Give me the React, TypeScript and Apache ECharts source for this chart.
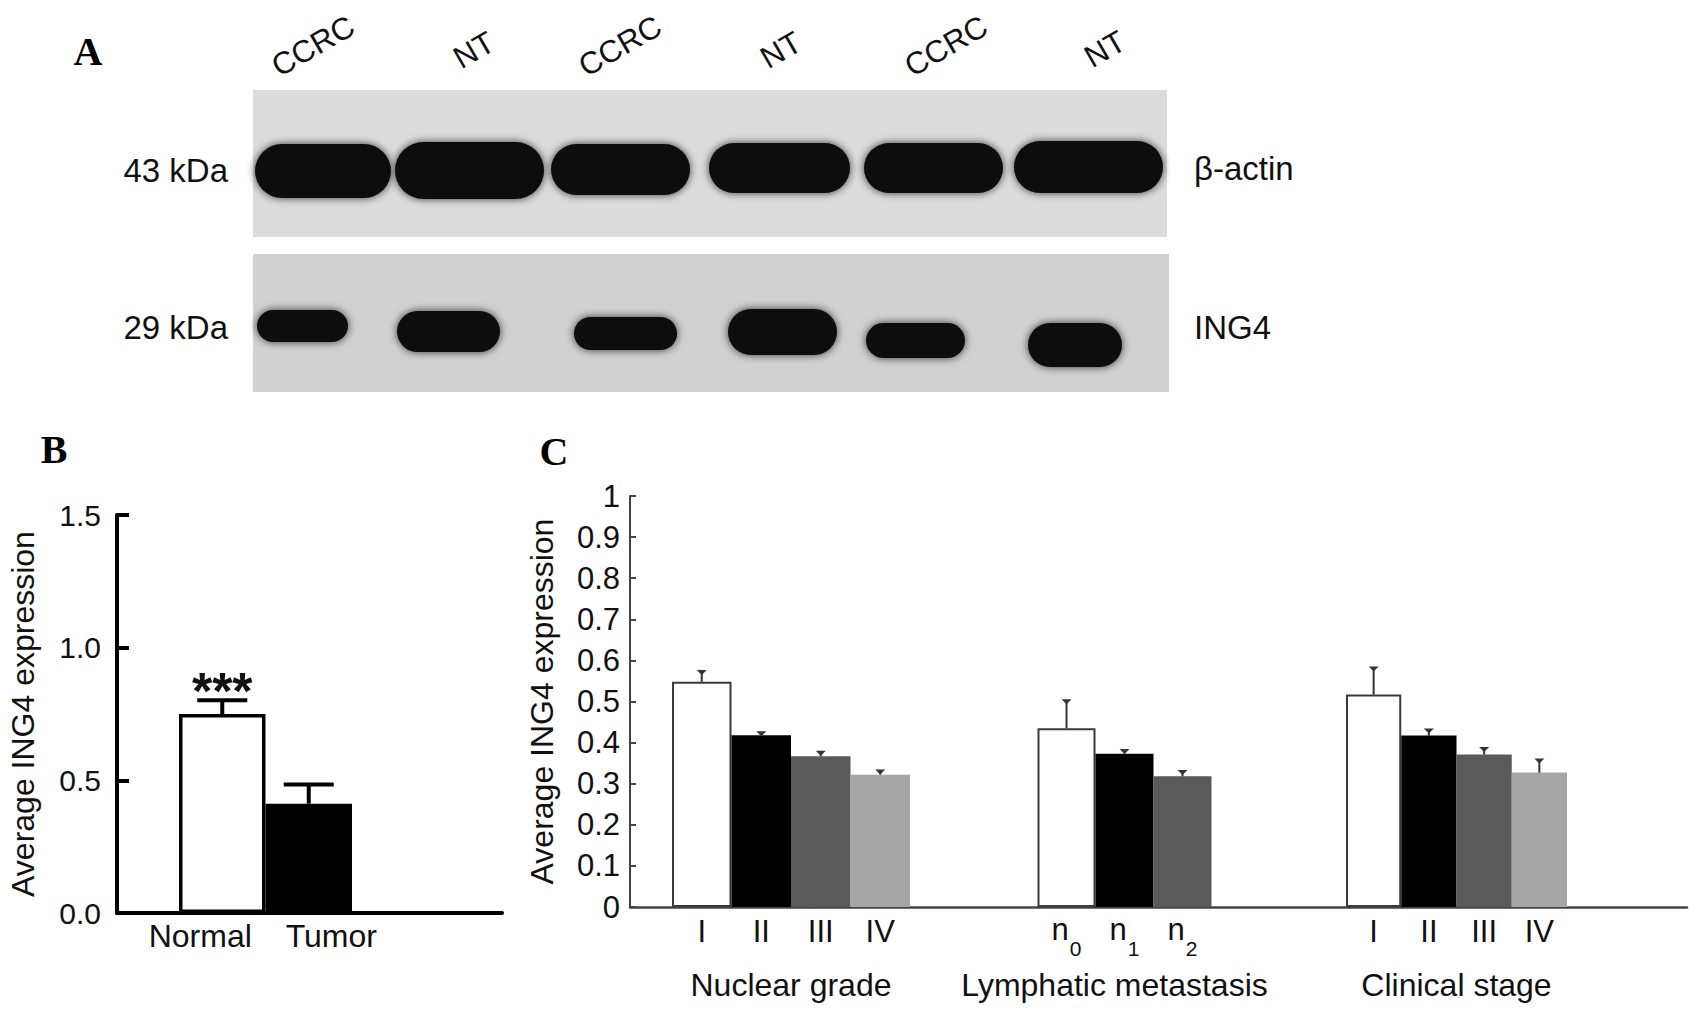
import React, { useEffect, useRef } from 'react';
import * as echarts from 'echarts';

// ---------------- data ----------------
// Panel A (western blot) texts
const laneLabels = ['CCRC', 'NT', 'CCRC', 'NT', 'CCRC', 'NT'];
const markerLabels = ['43 kDa', '29 kDa'];
const proteinLabels = ['β-actin', 'ING4'];

// Panel B
const bCategories = ['Normal', 'Tumor'];
const bMeans = [0.75, 0.412];
const bErrors = [0.052, 0.072];
const bSignificance = ['***', ''];
const bYTicks = [0, 0.5, 1.0, 1.5];

// Panel C
const cGroupNames = ['Nuclear grade', 'Lymphatic metastasis', 'Clinical stage'];
const nuclearLabels = ['I', 'II', 'III', 'IV'];
const nuclearMeans = [0.548, 0.418, 0.367, 0.322];
const nuclearErrors = [0.026, 0.007, 0.011, 0.01];
const lymphLabels = ['n0', 'n1', 'n2'];
const lymphMeans = [0.435, 0.373, 0.318];
const lymphErrors = [0.068, 0.009, 0.013];
const clinicalLabels = ['I', 'II', 'III', 'IV'];
const clinicalMeans = [0.517, 0.417, 0.371, 0.327];
const clinicalErrors = [0.066, 0.015, 0.016, 0.032];
const cYTicks = [0, 0.1, 0.2, 0.3, 0.4, 0.5, 0.6, 0.7, 0.8, 0.9, 1];

// ---------------- layout / style ----------------
const W = 1701;
const H = 1017;
const FONT = '"Liberation Sans", Arial, Helvetica, sans-serif';
const SERIF = '"Liberation Serif", "Times New Roman", serif';
const INK = '#111111';

const B_FRAME = { left: 117, top: 515, width: 385, height: 398 };
const B_BARS = { left: 179, top: 515, width: 173, height: 398 };
const C_FRAME = { left: 630, top: 496, width: 1057, height: 411 };
const C_GROUPS = [
  { left: 672, width: 238 },
  { left: 1037.5, width: 174 },
  { left: 1346, width: 221 },
];
const C_COLORS = ['#ffffff', '#000000', '#5a5a5a', '#a5a5a5'];

const BLOT_BG = [
  { x: 253, y: 90, w: 914, h: 147, fill: '#dcdcdc' },
  { x: 253, y: 254, w: 916, h: 138, fill: '#d1d1d1' },
];
const ACTIN_BANDS = [
  [255, 144, 136, 54],
  [395, 142, 149, 57],
  [551, 144, 139, 51],
  [709, 143, 141, 50],
  [864, 143, 139, 50],
  [1014, 141, 149, 52],
];
const ING4_BANDS = [
  [257, 310, 91, 32],
  [397, 311, 103, 41],
  [574, 317, 103, 33],
  [728, 309, 109, 46],
  [866, 323, 99, 35],
  [1028, 323, 94, 44],
];
const LANE_POS = [
  [313, 46],
  [474, 50],
  [620, 46],
  [781, 50],
  [946, 46],
  [1105, 49],
];

function errorSeries(
  axisIndex: number,
  means: number[],
  errors: number[],
  opts: { color: string; width: number; cap: number; triangle?: boolean; labels?: string[] }
) {
  return {
    type: 'custom',
    xAxisIndex: axisIndex,
    yAxisIndex: axisIndex,
    z: 5,
    silent: true,
    data: means.map((m, i) => [i, m, m + errors[i]]),
    renderItem: (params: any, api: any) => {
      const base = api.coord([api.value(0), api.value(1)]);
      const top = api.coord([api.value(0), api.value(2)]);
      const x = base[0];
      const children: any[] = [
        {
          type: 'line',
          shape: { x1: x, y1: base[1], x2: x, y2: top[1] },
          style: { stroke: opts.color, lineWidth: opts.width },
        },
      ];
      if (opts.triangle) {
        children.push({
          type: 'polygon',
          shape: {
            points: [
              [x - opts.cap, top[1] - 1],
              [x + opts.cap, top[1] - 1],
              [x, top[1] + 4],
            ],
          },
          style: { fill: opts.color },
        });
      } else {
        children.push({
          type: 'line',
          shape: { x1: x - opts.cap, y1: top[1], x2: x + opts.cap, y2: top[1] },
          style: { stroke: opts.color, lineWidth: opts.width },
        });
      }
      const sig = opts.labels ? opts.labels[params.dataIndex] : '';
      if (sig) {
        children.push({
          type: 'text',
          x: x,
          y: top[1] - 9,
          style: {
            text: sig,
            fontSize: 52,
            fontWeight: 'bold',
            fontFamily: FONT,
            fill: INK,
            align: 'center',
            verticalAlign: 'middle',
          },
        });
      }
      return { type: 'group', children };
    },
  };
}

function buildOption() {
  const cData = [
    { labels: nuclearLabels, means: nuclearMeans, errors: nuclearErrors },
    { labels: lymphLabels, means: lymphMeans, errors: lymphErrors },
    { labels: clinicalLabels, means: clinicalMeans, errors: clinicalErrors },
  ];

  const grids: any[] = [
    { ...B_FRAME },
    { ...B_BARS },
    { ...C_FRAME },
    ...C_GROUPS.map((g) => ({ left: g.left, width: g.width, top: C_FRAME.top, height: C_FRAME.height })),
  ].map((g) => ({ ...g, containLabel: false, outerBoundsMode: 'none' }));

  const xAxes: any[] = [
    {
      gridIndex: 0,
      type: 'value',
      min: 0,
      max: 1,
      axisLine: { show: true, lineStyle: { color: '#000', width: 4 } },
      axisTick: { show: false },
      axisLabel: { show: false },
      splitLine: { show: false },
    },
    {
      gridIndex: 1,
      type: 'category',
      data: bCategories,
      axisLine: { show: false },
      axisTick: { show: false },
      axisLabel: {
        interval: 0,
        margin: 7,
        color: INK,
        fontSize: 32,
        fontFamily: FONT,
        formatter: (v: string, i: number) => `{p${i}|${v}}`,
        rich: {
          p0: { fontSize: 32, fontFamily: FONT, color: INK, padding: [0, 44, 0, 0] },
          p1: { fontSize: 32, fontFamily: FONT, color: INK, padding: [0, 0, 0, 45] },
        },
      },
    },
    {
      gridIndex: 2,
      type: 'value',
      min: 0,
      max: 1,
      axisLine: { show: true, lineStyle: { color: '#444', width: 2.5 } },
      axisTick: { show: false },
      axisLabel: { show: false },
      splitLine: { show: false },
    },
    ...cData.map((g, gi) => ({
      gridIndex: 3 + gi,
      type: 'category',
      data: g.labels,
      axisLine: { show: false },
      axisTick: { show: false },
      axisLabel:
        gi === 1
          ? {
              interval: 0,
              margin: 7,
              color: INK,
              fontSize: 31,
              fontFamily: FONT,
              formatter: (v: string) => `{n|${v.charAt(0)}}{s|${v.slice(1)}}`,
              rich: {
                n: { fontSize: 31, fontFamily: FONT, color: INK, lineHeight: 31, verticalAlign: 'top' },
                s: {
                  fontSize: 21,
                  fontFamily: FONT,
                  color: INK,
                  lineHeight: 21,
                  verticalAlign: 'top',
                  padding: [24, 0, 0, 1],
                },
              },
            }
          : { interval: 0, margin: 9, color: INK, fontSize: 31, fontFamily: FONT },
      name: cGroupNames[gi],
      nameLocation: 'middle',
      nameGap: 62,
      nameTextStyle: {
        fontSize: 32,
        fontFamily: FONT,
        color: INK,
        padding: gi === 1 ? [0, 20, 0, 0] : 0,
      },
    })),
  ];

  const yAxes: any[] = [
    {
      gridIndex: 0,
      type: 'value',
      min: bYTicks[0],
      max: bYTicks[bYTicks.length - 1],
      interval: bYTicks[1] - bYTicks[0],
      axisLine: { show: true, lineStyle: { color: '#000', width: 4 } },
      axisTick: { show: true, inside: true, length: 12, lineStyle: { color: '#000', width: 4 } },
      axisLabel: {
        fontSize: 30,
        fontFamily: FONT,
        color: INK,
        margin: 16,
        formatter: (v: number) => v.toFixed(1),
      },
      splitLine: { show: false },
      name: 'Average ING4 expression',
      nameLocation: 'middle',
      nameGap: 78,
      nameTextStyle: { fontSize: 32, fontFamily: FONT, color: INK },
    },
    {
      gridIndex: 1,
      type: 'value',
      min: bYTicks[0],
      max: bYTicks[bYTicks.length - 1],
      show: false,
    },
    {
      gridIndex: 2,
      type: 'value',
      min: cYTicks[0],
      max: cYTicks[cYTicks.length - 1],
      interval: 0.1,
      axisLine: { show: true, lineStyle: { color: '#444', width: 2 } },
      axisTick: { show: true, inside: true, length: 6, lineStyle: { color: '#444', width: 2 } },
      axisLabel: { fontSize: 31, fontFamily: FONT, color: INK, margin: 10 },
      splitLine: { show: false },
      name: 'Average ING4 expression',
      nameLocation: 'middle',
      nameGap: 72,
      nameTextStyle: { fontSize: 32, fontFamily: FONT, color: INK },
    },
    ...cData.map((_, gi) => ({
      gridIndex: 3 + gi,
      type: 'value',
      min: cYTicks[0],
      max: cYTicks[cYTicks.length - 1],
      show: false,
    })),
  ];

  const series: any[] = [
    {
      type: 'bar',
      xAxisIndex: 1,
      yAxisIndex: 1,
      barWidth: '100%',
      barGap: '0%',
      data: bMeans.map((v, i) => ({
        value: v,
        itemStyle: { color: i === 0 ? '#ffffff' : '#000000', borderColor: '#000', borderWidth: 3.5 },
      })),
    },
    errorSeries(1, bMeans, bErrors, { color: '#000', width: 4, cap: 25, labels: bSignificance }),
    ...cData.map((g, gi) => ({
      type: 'bar',
      xAxisIndex: 3 + gi,
      yAxisIndex: 3 + gi,
      barWidth: '100%',
      barGap: '0%',
      data: g.means.map((v, i) => ({
        value: v,
        itemStyle: {
          color: C_COLORS[i],
          borderColor: i === 0 ? '#3a3a3a' : C_COLORS[i],
          borderWidth: i === 0 ? 2 : 0,
        },
      })),
    })),
    ...cData.map((g, gi) =>
      errorSeries(3 + gi, g.means, g.errors, { color: '#333', width: 2, cap: 5, triangle: true })
    ),
  ];

  const graphics: any[] = [];
  BLOT_BG.forEach((b) => {
    graphics.push({
      type: 'rect',
      shape: { x: b.x, y: b.y, width: b.w, height: b.h },
      style: { fill: b.fill },
      silent: true,
    });
  });
  [ACTIN_BANDS, ING4_BANDS].forEach((bands) => {
    bands.forEach(([x, y, w, h]) => {
      graphics.push({
        type: 'rect',
        shape: { x, y, width: w, height: h, r: h * 0.5 },
        style: { fill: '#0a0a0a', shadowBlur: 9, shadowColor: 'rgba(0,0,0,0.75)' },
        silent: true,
      });
    });
  });
  laneLabels.forEach((t, i) => {
    graphics.push({
      type: 'text',
      x: LANE_POS[i][0],
      y: LANE_POS[i][1],
      rotation: (30 * Math.PI) / 180,
      style: { text: t, fontSize: 31, fontFamily: FONT, fill: INK, align: 'center', verticalAlign: 'middle' },
    });
  });
  markerLabels.forEach((t, i) => {
    graphics.push({
      type: 'text',
      x: 228,
      y: i === 0 ? 170 : 327,
      style: { text: t, fontSize: 33, fontFamily: FONT, fill: INK, align: 'right', verticalAlign: 'middle' },
    });
  });
  proteinLabels.forEach((t, i) => {
    graphics.push({
      type: 'text',
      x: 1194,
      y: i === 0 ? 168 : 327,
      style: { text: t, fontSize: 33, fontFamily: FONT, fill: INK, align: 'left', verticalAlign: 'middle' },
    });
  });
  [
    ['A', 88, 51],
    ['B', 54, 449],
    ['C', 554, 451],
  ].forEach(([t, x, y]) => {
    graphics.push({
      type: 'text',
      x,
      y,
      style: {
        text: t,
        fontSize: 40,
        fontWeight: 'bold',
        fontFamily: SERIF,
        fill: '#000',
        align: 'center',
        verticalAlign: 'middle',
      },
    });
  });

  return {
    animation: false,
    backgroundColor: '#ffffff',
    textStyle: { fontFamily: FONT, color: INK },
    grid: grids,
    xAxis: xAxes,
    yAxis: yAxes,
    series,
    graphic: { elements: graphics },
  };
}

export default function App() {
  const ref = useRef<HTMLDivElement>(null);
  useEffect(() => {
    if (!ref.current) return;
    const chart = echarts.init(ref.current, undefined, { renderer: 'svg', width: W, height: H });
    chart.setOption(buildOption() as any);
    return () => {
      chart.dispose();
    };
  }, []);
  return (
    <div
      ref={ref}
      style={{ position: 'fixed', left: 0, top: 0, width: W, height: H, background: '#ffffff' }}
    />
  );
}
